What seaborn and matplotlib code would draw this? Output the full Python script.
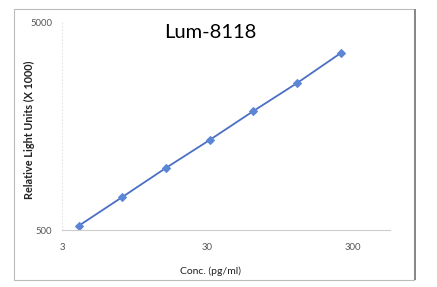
import matplotlib
matplotlib.use("Agg")
import matplotlib.pyplot as plt
import seaborn as sns
import pandas as pd
from matplotlib.patches import Rectangle
from matplotlib.ticker import FixedLocator, NullLocator

conc = [3.9, 7.8, 15.6, 31.25, 62.5, 125, 250]
rlu = [523, 720, 994, 1355, 1867, 2545, 3548]
xticks = [3, 30, 300]
yticks = [500, 5000]

sns.set_theme(style="white")
plt.rcParams['font.family'] = ['Lato', 'DejaVu Sans']

fig = plt.figure(figsize=(4.37, 2.87), dpi=100)
ax = fig.add_axes([62/437, 1-230/287, (390-62)/437, (230-22)/287])

df = pd.DataFrame({"conc": conc, "rlu": rlu})
sns.lineplot(data=df, x="conc", y="rlu", ax=ax, color="#4a6fc4", linewidth=1.3,
             marker="D", markersize=4.5, markerfacecolor="#5b86d6",
             markeredgecolor="#5b86d6")
ax.set_xscale("log")
ax.set_yscale("log")
ax.set_xlim(3, 545)
ax.set_ylim(500, 5000)
ax.xaxis.set_major_locator(FixedLocator(xticks))
ax.yaxis.set_major_locator(FixedLocator(yticks))
ax.xaxis.set_minor_locator(NullLocator())
ax.yaxis.set_minor_locator(NullLocator())
ax.set_xticklabels([str(v) for v in xticks])
ax.set_yticklabels([str(v) for v in yticks])
ax.tick_params(axis="both", labelsize=6.8, labelcolor="#555555", length=2,
               color="#cccccc", width=0.6, pad=5)
ax.tick_params(axis="x", length=0, pad=9)
for s in ["top", "right"]:
    ax.spines[s].set_visible(False)
ax.spines["left"].set_color("#dddddd")
ax.spines["left"].set_linestyle((0, (1, 3)))
ax.spines["left"].set_linewidth(0.6)
ax.spines["bottom"].set_color("#cccccc")
ax.spines["bottom"].set_linewidth(0.8)

ax.set_xlabel("Conc. (pg/ml)", fontsize=7.5, color="#222222")
ax.xaxis.set_label_coords((210-62)/328, -(266-230)/208)
ax.set_ylabel("Relative Light Units (X 1000)", fontsize=7.8, fontweight="bold",
              color="#222222")
ax.yaxis.set_label_coords(-(62-35)/328, 0.48)
fig.text(210/437, 1-33/287, "Lum-8118", fontsize=14.5, ha="center", va="center",
         color="black")

# outer frame
fig.patches.append(Rectangle((14/437, 1-280/287), 400/437, 271/287,
                             transform=fig.transFigure, fill=False,
                             edgecolor="#bbbbbb", linewidth=0.8))
fig.patches.append(Rectangle((414/437, 1-280/287), 1.5/437, 271/287,
                             transform=fig.transFigure, fill=True,
                             facecolor="#888888", edgecolor="none"))

fig.savefig("out.png", dpi=100)
